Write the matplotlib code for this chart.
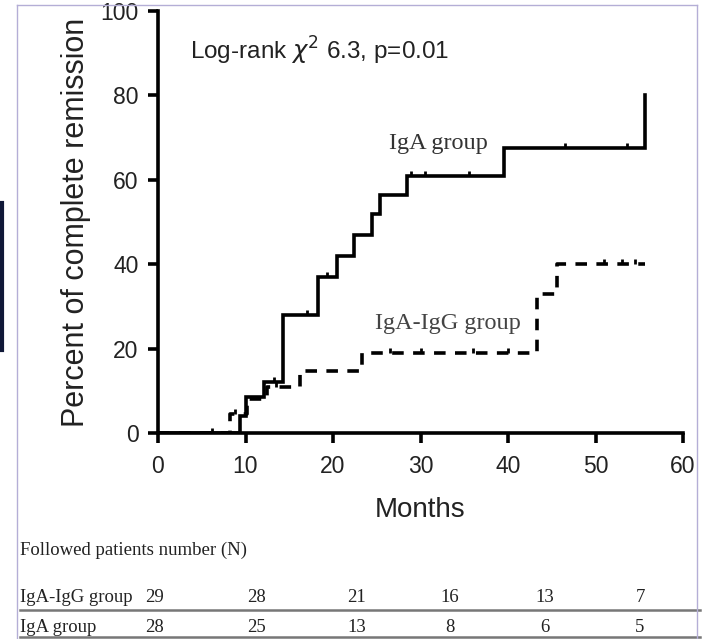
import numpy as np
import matplotlib
matplotlib.use("Agg")
import matplotlib.pyplot as plt
from matplotlib.lines import Line2D

# Kaplan-Meier style step data (months, percent in complete remission)
iga_t = [0, 9.4, 10.0, 12.1, 14.3, 18.3, 20.5, 22.4, 24.5, 25.4, 28.5, 39.5, 55.6]
iga_v = [0, 4, 8.5, 12, 28, 37, 42, 47, 52, 56.5, 61, 67.5, 80]
iga_cens = [6.2, 13.3, 17.0, 19.3, 28.9, 30.5, 35.5, 46.5, 53.6]

igg_t = [0, 8.2, 10.2, 12.4, 16.2, 23.3, 43.3, 45.6, 55.6]
igg_v = [0, 4.5, 8, 11, 14.6, 19, 33, 40, 40]
igg_cens = [8.8, 13.5, 26.5, 30.0, 36.0, 40.0, 51.0, 53.0, 54.5]

table_groups = ["IgA-IgG group", "IgA group"]
table_igg = [29, 28, 21, 16, 13, 7]
table_iga = [28, 25, 13, 8, 6, 5]
table_x = [155, 256, 357, 450, 545, 640]   # pixel columns of the numbers

plt.rcParams['font.family'] = ['Liberation Sans', 'DejaVu Sans']

fig = plt.figure(figsize=(7.06, 6.39), dpi=100)
W, H = 706, 639
ax = fig.add_axes([158 / W, 1 - 433 / H, 525 / W, 422 / H])


def step_value(ts, vs, t):
    i = np.searchsorted(ts, t, side='right') - 1
    return vs[i]


ax.step(iga_t, iga_v, where='post', color='black', lw=2.6, solid_joinstyle='miter')
ax.step(igg_t, igg_v, where='post', color='black', lw=2.6, linestyle=(0, (3.2, 2.6)))

tick_mark = [(0, 0), (0, 1)]
ax.plot(iga_cens, [step_value(iga_t, iga_v, t) for t in iga_cens], ls='none',
        marker=tick_mark, ms=7, mew=2, color='black')
ax.plot(igg_cens, [step_value(igg_t, igg_v, t) for t in igg_cens], ls='none',
        marker=tick_mark, ms=7, mew=2, color='black')

ax.set_xlim(0, 60)
ax.set_ylim(0, 100)
ax.set_xticks(range(0, 61, 10))
ax.set_yticks(range(0, 101, 20))
for s in ['top', 'right']:
    ax.spines[s].set_visible(False)
for s in ['left', 'bottom']:
    ax.spines[s].set_linewidth(2.6)
ax.tick_params(width=2.6, length=7, labelsize=16.5, color='black', labelcolor='#222222')
ax.tick_params(axis='x', pad=9)
ax.tick_params(axis='y', pad=7)
ax.set_xlabel('Months', fontsize=20, color='#222222')
ax.xaxis.set_label_coords(0.5, -(510 - 433) / 422, transform=ax.transAxes)
ax.set_ylabel('Percent of complete remission', fontsize=22, color='#222222')
ax.yaxis.set_label_coords(-(158 - 76) / 525, 0.5)
ax.yaxis.label.set_va('center')
ax.xaxis.label.set_va('center')

ax.text(3.7, 90.5, r'Log-rank $\chi^2$ 6.3, p=0.01', fontsize=17.5, va='center', color='#222222')
ax.text(26.4, 68.6, 'IgA group', fontsize=17.5, family='Liberation Serif', va='center', color='#333333')
ax.text(24.8, 26, 'IgA-IgG group', fontsize=17.5, family='Liberation Serif', va='center', color='#444444')

# follow-up table below the plot
serif = 'Liberation Serif'
fig.text(20 / W, 1 - 550 / H, 'Followed patients number (N)', fontsize=13.5, family=serif,
         va='center', color='#222222')
rows_y = [598, 627]
for name, vals, y in zip(table_groups, [table_igg, table_iga], rows_y):
    fig.text(20 / W, 1 - y / H, name, fontsize=13.5, family=serif, va='center', color='#222222')
    for v, x in zip(vals, table_x):
        fig.text(x / W, 1 - y / H, str(v), fontsize=13.5, family=serif, va='center',
                 ha='center', color='#222222')

for y in [610, 637]:
    fig.add_artist(Line2D([20 / W, 700 / W], [1 - y / H, 1 - y / H], color='#777777', lw=1.8))

# frame of the original slide
frame = '#b4aed6'
fig.add_artist(Line2D([17 / W, 697 / W], [1 - 5 / H, 1 - 5 / H], color=frame, lw=1))
fig.add_artist(Line2D([17 / W, 17 / W], [0, 1 - 5 / H], color=frame, lw=1))
fig.add_artist(Line2D([697 / W, 697 / W], [0, 1 - 5 / H], color=frame, lw=1))
fig.add_artist(Line2D([1.5 / W, 1.5 / W], [1 - 350 / H, 1 - 203 / H], color='#101838', lw=3))

fig.savefig('out.png', dpi=100)
